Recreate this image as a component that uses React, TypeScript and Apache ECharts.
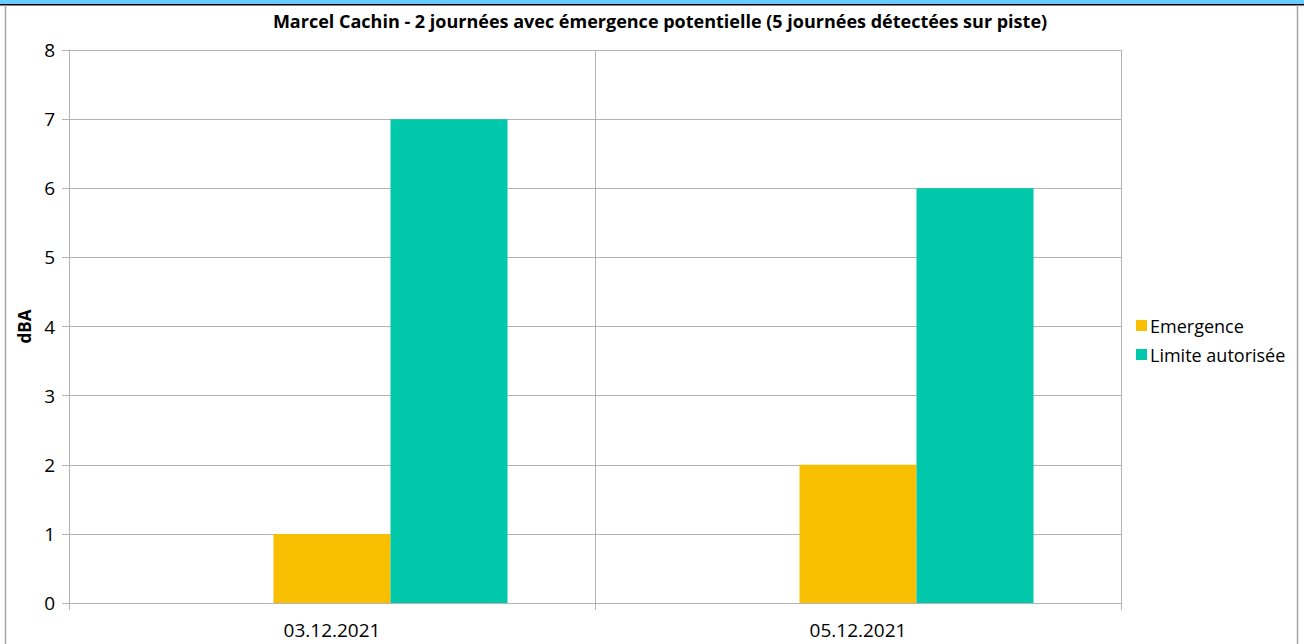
import React, { useEffect, useRef } from "react";
import * as echarts from "echarts";

const categories = ["03.12.2021", "05.12.2021"];
const placeholder: (number | null)[] = [null, null];
const emergence = [1, 2];
const limite = [7, 6];
const seriesNames = ["Emergence", "Limite autorisée"];
const titleText = "Marcel Cachin - 2 journées avec émergence potentielle (5 journées détectées sur piste)";
const yAxisName = "dBA";

export default function App() {
  const ref = useRef<HTMLDivElement>(null);
  useEffect(() => {
    document.body.style.margin = "0";
    const chart = echarts.init(ref.current!, null, { renderer: "svg" });
    const font = "'Open Sans', 'Noto Sans', sans-serif";
    chart.setOption({
      animation: false,
      backgroundColor: "#ffffff",
      title: {
        text: titleText,
        left: 655,
        top: 7,
        textAlign: "center",
        textStyle: { fontFamily: font, fontWeight: "bold", fontSize: 18, color: "#000" },
      },
      legend: {
        orient: "vertical",
        left: 1131,
        top: 310,
        itemWidth: 11,
        itemHeight: 11,
        itemGap: 8,
        icon: "rect",
        textStyle: { fontFamily: font, fontSize: 18, lineHeight: 21, color: "#000", padding: [0, 0, 0, -2] },
        data: seriesNames,
      },
      grid: { left: 69, top: 50, width: 1052, height: 553 },
      xAxis: {
        type: "category",
        data: categories,
        axisLine: { show: true, lineStyle: { color: "#b3b3b3", width: 1 } },
        axisTick: { show: true, length: 7, lineStyle: { color: "#b3b3b3" } },
        splitLine: { show: true, lineStyle: { color: "#b3b3b3", width: 1 } },
        axisLabel: { fontFamily: font, fontSize: 19, color: "#000", margin: 17 },
      },
      yAxis: {
        type: "value",
        min: 0,
        max: 8,
        interval: 1,
        name: yAxisName,
        nameLocation: "middle",
        nameGap: 35,
        nameRotate: 90,
        nameTextStyle: { fontFamily: font, fontWeight: "bold", fontSize: 17, color: "#000" },
        axisLine: { show: true, lineStyle: { color: "#b3b3b3", width: 1 } },
        axisTick: { show: true, length: 7, lineStyle: { color: "#b3b3b3" } },
        splitLine: { show: true, lineStyle: { color: "#b3b3b3", width: 1 } },
        axisLabel: { fontFamily: font, fontSize: 19, color: "#000", margin: 14 },
      },
      series: [
        {
          name: "_placeholder",
          type: "bar",
          data: placeholder,
          barWidth: 117,
          barGap: "0%",
          itemStyle: { color: "transparent" },
          silent: true,
        },
        {
          name: seriesNames[0],
          type: "bar",
          data: emergence,
          barWidth: 117,
          barGap: "0%",
          itemStyle: { color: "#F8BE00" },
        },
        {
          name: seriesNames[1],
          type: "bar",
          data: limite,
          barWidth: 117,
          barGap: "0%",
          itemStyle: { color: "#00C8AA" },
        },
      ],
      graphic: [
        { type: "rect", shape: { x: 0, y: 0, width: 1304, height: 4 }, style: { fill: "#66CCFF" }, silent: true },
        { type: "rect", shape: { x: 0, y: 4, width: 1304, height: 1.5 }, style: { fill: "#000" }, silent: true },
        { type: "line", shape: { x1: 5.5, y1: 5, x2: 5.5, y2: 644 }, style: { stroke: "#a6a6a6", lineWidth: 1.5 }, silent: true },
        { type: "line", shape: { x1: 1297.5, y1: 5, x2: 1297.5, y2: 644 }, style: { stroke: "#a6a6a6", lineWidth: 1.5 }, silent: true },
      ],
    });
    return () => chart.dispose();
  }, []);
  return <div ref={ref} style={{ width: 1304, height: 644 }} />;
}
